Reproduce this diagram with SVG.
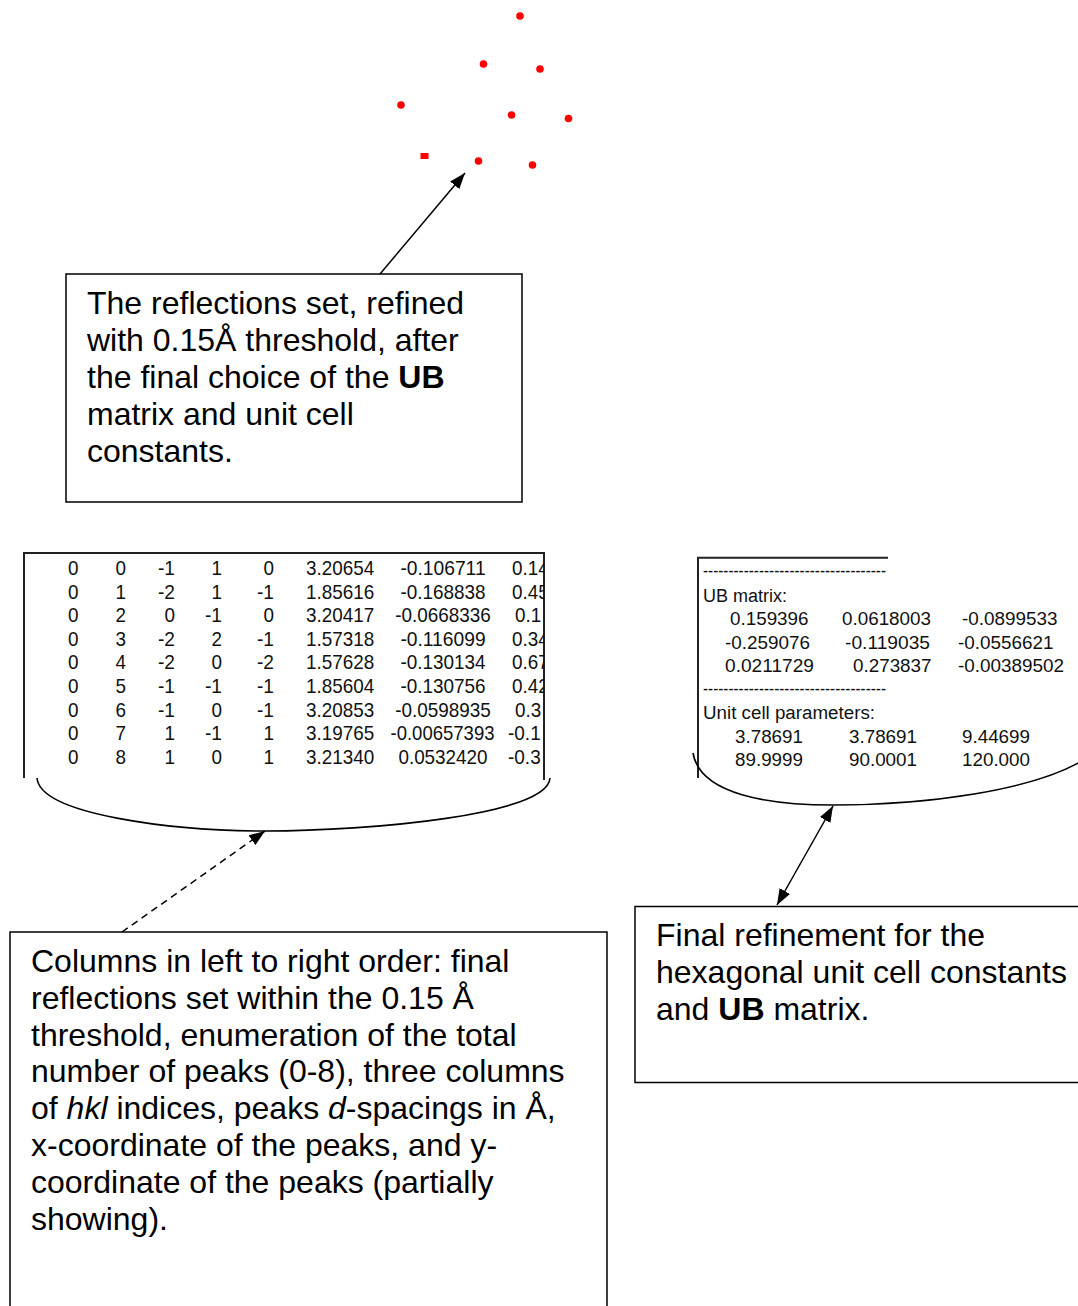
<svg xmlns="http://www.w3.org/2000/svg" width="1078" height="1306" viewBox="0 0 1078 1306">
<defs>
<style>
.box{fill:#fff;stroke:#000;stroke-width:1.5}
.lbl{font-family:"Liberation Sans",Arial,sans-serif;font-size:32px;fill:#000}
.tl{font-family:"Liberation Sans",Arial,sans-serif;font-size:21px;fill:#111}
.tr{font-family:"Liberation Sans",Arial,sans-serif;font-size:18px;fill:#111}
.frame{fill:none;stroke:#222;stroke-width:2}
.brace{fill:none;stroke:#000;stroke-width:1.6}
.conn{fill:none;stroke:#000;stroke-width:1.5}
.dot{fill:#ff0000}
</style>
<marker id="ah" markerUnits="userSpaceOnUse" markerWidth="16" markerHeight="12" refX="16" refY="6" orient="auto-start-reverse" viewBox="0 0 16 12">
<path d="M0,0 L16,6 L0,12 z" fill="#000"/>
</marker>
<clipPath id="clipL"><rect x="24" y="553" width="520" height="230"/></clipPath>
</defs>
<rect width="1078" height="1306" fill="#fff"/>

<g id="reflection-spots">
<circle class="dot" cx="520" cy="16" r="3.8"/>
<circle class="dot" cx="483.5" cy="64" r="3.8"/>
<circle class="dot" cx="540" cy="69" r="3.8"/>
<circle class="dot" cx="401" cy="105" r="3.8"/>
<circle class="dot" cx="511.5" cy="115" r="3.8"/>
<circle class="dot" cx="568.5" cy="118.5" r="3.8"/>
<rect class="dot" x="420.5" y="153" width="8" height="6"/>
<circle class="dot" cx="478.5" cy="161" r="3.8"/>
<circle class="dot" cx="532.5" cy="165" r="3.8"/>
</g>

<g id="box-reflections">
<rect class="box" x="66" y="274" width="456" height="228"/>
<text class="lbl" x="87" y="314.3">The reflections set, refined</text>
<text class="lbl" x="87" y="351.1">with 0.15Å threshold, after</text>
<text class="lbl" x="87" y="387.9">the final choice of the <tspan font-weight="bold">UB</tspan></text>
<text class="lbl" x="87" y="424.7">matrix and unit cell</text>
<text class="lbl" x="87" y="461.5">constants.</text>
</g>

<g id="table-reflections">
<path class="frame" d="M24,778 V553 H544 V780"/>
<g clip-path="url(#clipL)">
<g class="tl">
<!-- row 0 -->
<text x="68" y="575" textLength="10.5" lengthAdjust="spacingAndGlyphs">0</text>
<text x="115.5" y="575" textLength="10.5" lengthAdjust="spacingAndGlyphs">0</text>
<text x="158" y="575" textLength="17" lengthAdjust="spacingAndGlyphs">-1</text>
<text x="211.5" y="575" textLength="10.5" lengthAdjust="spacingAndGlyphs">1</text>
<text x="263.5" y="575" textLength="10.5" lengthAdjust="spacingAndGlyphs">0</text>
<text x="306" y="575" textLength="68.2" lengthAdjust="spacingAndGlyphs">3.20654</text>
<text x="400.4" y="575" textLength="85.2" lengthAdjust="spacingAndGlyphs">-0.106711</text>
<text x="512" y="575" textLength="36.7" lengthAdjust="spacingAndGlyphs">0.14</text>
<!-- row 1 -->
<text x="68" y="598.6" textLength="10.5" lengthAdjust="spacingAndGlyphs">0</text>
<text x="115.5" y="598.6" textLength="10.5" lengthAdjust="spacingAndGlyphs">1</text>
<text x="158" y="598.6" textLength="17" lengthAdjust="spacingAndGlyphs">-2</text>
<text x="211.5" y="598.6" textLength="10.5" lengthAdjust="spacingAndGlyphs">1</text>
<text x="257" y="598.6" textLength="17" lengthAdjust="spacingAndGlyphs">-1</text>
<text x="306" y="598.6" textLength="68.2" lengthAdjust="spacingAndGlyphs">1.85616</text>
<text x="400.4" y="598.6" textLength="85.2" lengthAdjust="spacingAndGlyphs">-0.168838</text>
<text x="512" y="598.6" textLength="36.7" lengthAdjust="spacingAndGlyphs">0.45</text>
<!-- row 2 -->
<text x="68" y="622.2" textLength="10.5" lengthAdjust="spacingAndGlyphs">0</text>
<text x="115.5" y="622.2" textLength="10.5" lengthAdjust="spacingAndGlyphs">2</text>
<text x="164.5" y="622.2" textLength="10.5" lengthAdjust="spacingAndGlyphs">0</text>
<text x="205" y="622.2" textLength="17" lengthAdjust="spacingAndGlyphs">-1</text>
<text x="263.5" y="622.2" textLength="10.5" lengthAdjust="spacingAndGlyphs">0</text>
<text x="306" y="622.2" textLength="68.2" lengthAdjust="spacingAndGlyphs">3.20417</text>
<text x="395.2" y="622.2" textLength="95.7" lengthAdjust="spacingAndGlyphs">-0.0668336</text>
<text x="515" y="622.2" textLength="26.2" lengthAdjust="spacingAndGlyphs">0.1</text>
<!-- row 3 -->
<text x="68" y="645.8" textLength="10.5" lengthAdjust="spacingAndGlyphs">0</text>
<text x="115.5" y="645.8" textLength="10.5" lengthAdjust="spacingAndGlyphs">3</text>
<text x="158" y="645.8" textLength="17" lengthAdjust="spacingAndGlyphs">-2</text>
<text x="211.5" y="645.8" textLength="10.5" lengthAdjust="spacingAndGlyphs">2</text>
<text x="257" y="645.8" textLength="17" lengthAdjust="spacingAndGlyphs">-1</text>
<text x="306" y="645.8" textLength="68.2" lengthAdjust="spacingAndGlyphs">1.57318</text>
<text x="400.4" y="645.8" textLength="85.2" lengthAdjust="spacingAndGlyphs">-0.116099</text>
<text x="512" y="645.8" textLength="36.7" lengthAdjust="spacingAndGlyphs">0.34</text>
<!-- row 4 -->
<text x="68" y="669.4" textLength="10.5" lengthAdjust="spacingAndGlyphs">0</text>
<text x="115.5" y="669.4" textLength="10.5" lengthAdjust="spacingAndGlyphs">4</text>
<text x="158" y="669.4" textLength="17" lengthAdjust="spacingAndGlyphs">-2</text>
<text x="211.5" y="669.4" textLength="10.5" lengthAdjust="spacingAndGlyphs">0</text>
<text x="257" y="669.4" textLength="17" lengthAdjust="spacingAndGlyphs">-2</text>
<text x="306" y="669.4" textLength="68.2" lengthAdjust="spacingAndGlyphs">1.57628</text>
<text x="400.4" y="669.4" textLength="85.2" lengthAdjust="spacingAndGlyphs">-0.130134</text>
<text x="512" y="669.4" textLength="36.7" lengthAdjust="spacingAndGlyphs">0.67</text>
<!-- row 5 -->
<text x="68" y="693" textLength="10.5" lengthAdjust="spacingAndGlyphs">0</text>
<text x="115.5" y="693" textLength="10.5" lengthAdjust="spacingAndGlyphs">5</text>
<text x="158" y="693" textLength="17" lengthAdjust="spacingAndGlyphs">-1</text>
<text x="205" y="693" textLength="17" lengthAdjust="spacingAndGlyphs">-1</text>
<text x="257" y="693" textLength="17" lengthAdjust="spacingAndGlyphs">-1</text>
<text x="306" y="693" textLength="68.2" lengthAdjust="spacingAndGlyphs">1.85604</text>
<text x="400.4" y="693" textLength="85.2" lengthAdjust="spacingAndGlyphs">-0.130756</text>
<text x="512" y="693" textLength="36.7" lengthAdjust="spacingAndGlyphs">0.42</text>
<!-- row 6 -->
<text x="68" y="716.6" textLength="10.5" lengthAdjust="spacingAndGlyphs">0</text>
<text x="115.5" y="716.6" textLength="10.5" lengthAdjust="spacingAndGlyphs">6</text>
<text x="158" y="716.6" textLength="17" lengthAdjust="spacingAndGlyphs">-1</text>
<text x="211.5" y="716.6" textLength="10.5" lengthAdjust="spacingAndGlyphs">0</text>
<text x="257" y="716.6" textLength="17" lengthAdjust="spacingAndGlyphs">-1</text>
<text x="306" y="716.6" textLength="68.2" lengthAdjust="spacingAndGlyphs">3.20853</text>
<text x="395.2" y="716.6" textLength="95.7" lengthAdjust="spacingAndGlyphs">-0.0598935</text>
<text x="515" y="716.6" textLength="26.2" lengthAdjust="spacingAndGlyphs">0.3</text>
<!-- row 7 -->
<text x="68" y="740.2" textLength="10.5" lengthAdjust="spacingAndGlyphs">0</text>
<text x="115.5" y="740.2" textLength="10.5" lengthAdjust="spacingAndGlyphs">7</text>
<text x="164.5" y="740.2" textLength="10.5" lengthAdjust="spacingAndGlyphs">1</text>
<text x="205" y="740.2" textLength="17" lengthAdjust="spacingAndGlyphs">-1</text>
<text x="263.5" y="740.2" textLength="10.5" lengthAdjust="spacingAndGlyphs">1</text>
<text x="306" y="740.2" textLength="68.2" lengthAdjust="spacingAndGlyphs">3.19765</text>
<text x="390.5" y="740.2" textLength="104" lengthAdjust="spacingAndGlyphs">-0.00657393</text>
<text x="508" y="740.2" textLength="32.7" lengthAdjust="spacingAndGlyphs">-0.1</text>
<!-- row 8 -->
<text x="68" y="763.8" textLength="10.5" lengthAdjust="spacingAndGlyphs">0</text>
<text x="115.5" y="763.8" textLength="10.5" lengthAdjust="spacingAndGlyphs">8</text>
<text x="164.5" y="763.8" textLength="10.5" lengthAdjust="spacingAndGlyphs">1</text>
<text x="211.5" y="763.8" textLength="10.5" lengthAdjust="spacingAndGlyphs">0</text>
<text x="263.5" y="763.8" textLength="10.5" lengthAdjust="spacingAndGlyphs">1</text>
<text x="306" y="763.8" textLength="68.2" lengthAdjust="spacingAndGlyphs">3.21340</text>
<text x="398.4" y="763.8" textLength="89.2" lengthAdjust="spacingAndGlyphs">0.0532420</text>
<text x="508" y="763.8" textLength="32.7" lengthAdjust="spacingAndGlyphs">-0.3</text>
</g>
</g>
<path class="brace" d="M37,778 C40,815 175,831 265,831 C370,831 548,815 550,778"/>
</g>

<g id="table-ub">
<path class="frame" d="M698,778 V557.7 H888"/>
<g class="tr">
<text x="703" y="577" textLength="183" lengthAdjust="spacingAndGlyphs">------------------------------------</text>
<text x="703" y="601.5" textLength="84" lengthAdjust="spacingAndGlyphs">UB matrix:</text>
<text x="730" y="625" textLength="78.5" lengthAdjust="spacingAndGlyphs">0.159396</text>
<text x="842" y="625" textLength="89" lengthAdjust="spacingAndGlyphs">0.0618003</text>
<text x="962" y="625" textLength="95.5" lengthAdjust="spacingAndGlyphs">-0.0899533</text>
<text x="725" y="648.5" textLength="85" lengthAdjust="spacingAndGlyphs">-0.259076</text>
<text x="845" y="648.5" textLength="85" lengthAdjust="spacingAndGlyphs">-0.119035</text>
<text x="958" y="648.5" textLength="95.5" lengthAdjust="spacingAndGlyphs">-0.0556621</text>
<text x="725" y="672" textLength="89" lengthAdjust="spacingAndGlyphs">0.0211729</text>
<text x="853" y="672" textLength="78.5" lengthAdjust="spacingAndGlyphs">0.273837</text>
<text x="958" y="672" textLength="106" lengthAdjust="spacingAndGlyphs">-0.00389502</text>
<text x="703" y="695" textLength="183" lengthAdjust="spacingAndGlyphs">------------------------------------</text>
<text x="703" y="719" textLength="172" lengthAdjust="spacingAndGlyphs">Unit cell parameters:</text>
<text x="735" y="742.5" textLength="68" lengthAdjust="spacingAndGlyphs">3.78691</text>
<text x="849" y="742.5" textLength="68" lengthAdjust="spacingAndGlyphs">3.78691</text>
<text x="962" y="742.5" textLength="68" lengthAdjust="spacingAndGlyphs">9.44699</text>
<text x="735" y="766" textLength="68" lengthAdjust="spacingAndGlyphs">89.9999</text>
<text x="849" y="766" textLength="68" lengthAdjust="spacingAndGlyphs">90.0001</text>
<text x="962" y="766" textLength="68" lengthAdjust="spacingAndGlyphs">120.000</text>
</g>
<path class="brace" d="M693,753 C700,795 770,805 833,805 C930,805 1030,790 1080,762"/>
</g>

<g id="box-columns">
<rect class="box" x="10" y="932" width="597" height="390"/>
<text class="lbl" x="31" y="972">Columns in left to right order: final</text>
<text class="lbl" x="31" y="1008.8">reflections set within the 0.15 Å</text>
<text class="lbl" x="31" y="1045.6">threshold, enumeration of the total</text>
<text class="lbl" x="31" y="1082.4">number of peaks (0-8), three columns</text>
<text class="lbl" x="31" y="1119.2">of <tspan font-style="italic">hkl</tspan> indices, peaks <tspan font-style="italic">d</tspan>-spacings in Å,</text>
<text class="lbl" x="31" y="1156">x-coordinate of the peaks, and y-</text>
<text class="lbl" x="31" y="1192.8">coordinate of the peaks (partially</text>
<text class="lbl" x="31" y="1229.6">showing).</text>
</g>

<g id="box-final">
<rect class="box" x="635" y="906.5" width="460" height="176"/>
<text class="lbl" x="656" y="946">Final refinement for the</text>
<text class="lbl" x="656" y="982.8">hexagonal unit cell constants</text>
<text class="lbl" x="656" y="1019.6">and <tspan font-weight="bold">UB</tspan> matrix.</text>
</g>

<g id="connectors">
<line class="conn" x1="380" y1="274" x2="465" y2="173" marker-end="url(#ah)"/>
<line class="conn" x1="122" y1="932" x2="265" y2="831" stroke-dasharray="7 5" marker-end="url(#ah)"/>
<line class="conn" x1="777" y1="905" x2="833" y2="806" marker-start="url(#ah)" marker-end="url(#ah)"/>
</g>
</svg>
